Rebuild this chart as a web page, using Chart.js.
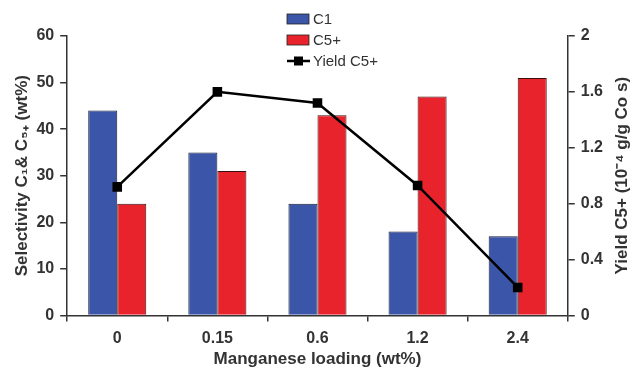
<!DOCTYPE html>
<html>
<head>
<meta charset="utf-8">
<script src="https://cdn.jsdelivr.net/npm/chart.js@4"></script>
<style>
  html, body { margin: 0; padding: 0; background: #fff; }
  #wrap { width: 639px; height: 370px; }
</style>
</head>
<body>
<div id="wrap"><canvas id="chart" width="639" height="370"></canvas></div>
<script>
// --- data ---
const loadings = ['0', '0.15', '0.6', '1.2', '2.4'];
const selC1 = [44, 35, 24, 18, 17];
const selC5 = [24, 31, 43, 47, 51];
const yieldC5 = [0.92, 1.6, 1.52, 0.93, 0.2];

const blue = '#3b56a8';
const red = '#e8232b';
const ink = '#333333';
const fam = '"Liberation Sans", Arial, sans-serif';

// legend stacked in the middle of the top, drawn on the canvas
const stackedLegend = {
  id: 'stackedLegend',
  afterDraw(chart) {
    const ctx = chart.ctx;
    const x = 287, rows = [19, 40, 61];
    ctx.save();
    ctx.font = '15px ' + fam;
    ctx.textBaseline = 'middle';
    chart.data.datasets.forEach((ds, i) => {
      const y = rows[i];
      if (ds.type === 'line') {
        ctx.strokeStyle = '#000';
        ctx.lineWidth = 2.5;
        ctx.beginPath(); ctx.moveTo(x, y); ctx.lineTo(x + 23, y); ctx.stroke();
        ctx.fillStyle = '#000';
        ctx.fillRect(x + 7, y - 4.5, 9, 9);
      } else {
        ctx.fillStyle = ds.backgroundColor;
        ctx.fillRect(x, y - 5, 22, 10);
        ctx.strokeStyle = '#222';
        ctx.lineWidth = 0.8;
        ctx.strokeRect(x, y - 5, 22, 10);
      }
      ctx.fillStyle = ink;
      ctx.fillText(ds.label, x + 26, y + 1);
    });
    ctx.restore();
  }
};

// right axis title reads bottom-to-top like the left one
const rightTitle = {
  id: 'rightTitle',
  afterDraw(chart) {
    const ctx = chart.ctx, area = chart.chartArea;
    ctx.save();
    ctx.translate(622, (area.top + area.bottom) / 2);
    ctx.rotate(-Math.PI / 2);
    ctx.font = 'bold 17px ' + fam;
    ctx.fillStyle = ink;
    ctx.textAlign = 'center';
    ctx.textBaseline = 'middle';
    ctx.fillText('Yield C5+ (10\u207B\u2074 g/g Co s)', 0, 0);
    ctx.restore();
  }
};

const tickFont = { family: fam, size: 16, weight: 'bold' };
const titleFont = { family: fam, size: 17, weight: 'bold' };

new Chart(document.getElementById('chart'), {
  data: {
    labels: loadings,
    datasets: [
      { type: 'bar', label: 'C1', data: selC1, backgroundColor: blue, borderColor: '#1c1c3a', borderWidth: 1, yAxisID: 'y', order: 2 },
      { type: 'bar', label: 'C5+', data: selC5, backgroundColor: red, borderColor: '#3a1010', borderWidth: 1, yAxisID: 'y', order: 2 },
      { type: 'line', label: 'Yield C5+', data: yieldC5, borderColor: '#000', backgroundColor: '#000', borderWidth: 2.5,
        pointStyle: 'rect', pointRadius: 5, pointHoverRadius: 5, tension: 0, yAxisID: 'y1', order: 1 }
    ]
  },
  options: {
    responsive: false,
    animation: false,
    layout: { padding: { top: 36, right: 30, left: 12, bottom: 0 } },
    datasets: { bar: { categoryPercentage: 0.58, barPercentage: 1 } },
    plugins: { legend: { display: false }, tooltip: { enabled: false } },
    scales: {
      x: {
        offset: true,
        grid: { offset: true, drawOnChartArea: false, drawTicks: true, tickLength: 6, color: ink, lineWidth: 1.5 },
        border: { display: true, color: ink, width: 1.5 },
        ticks: { color: ink, font: tickFont, padding: 8 },
        title: { display: true, text: 'Manganese loading (wt%)', color: ink, font: titleFont, padding: { top: -7, bottom: 0 } }
      },
      y: {
        position: 'left',
        min: 0, max: 60,
        ticks: { stepSize: 10, color: ink, font: tickFont, padding: 6 },
        grid: { drawOnChartArea: false, drawTicks: true, tickLength: 7, color: ink, lineWidth: 1.5 },
        border: { display: true, color: ink, width: 1.5 },
        title: { display: true, text: 'Selectivity C\u2081& C\u2085\u208A (wt%)', color: ink, font: titleFont, padding: { top: 0, bottom: -2 } }
      },
      y1: {
        position: 'right',
        min: 0, max: 2,
        ticks: { stepSize: 0.4, color: ink, font: tickFont, padding: 6,
          callback: v => String(Math.round(v * 10) / 10) },
        grid: { drawOnChartArea: false, drawTicks: true, tickLength: 7, color: ink, lineWidth: 1.5 },
        border: { display: true, color: ink, width: 1.5 },
        title: { display: false }
      }
    }
  },
  plugins: [stackedLegend, rightTitle]
});
</script>
</body>
</html>
